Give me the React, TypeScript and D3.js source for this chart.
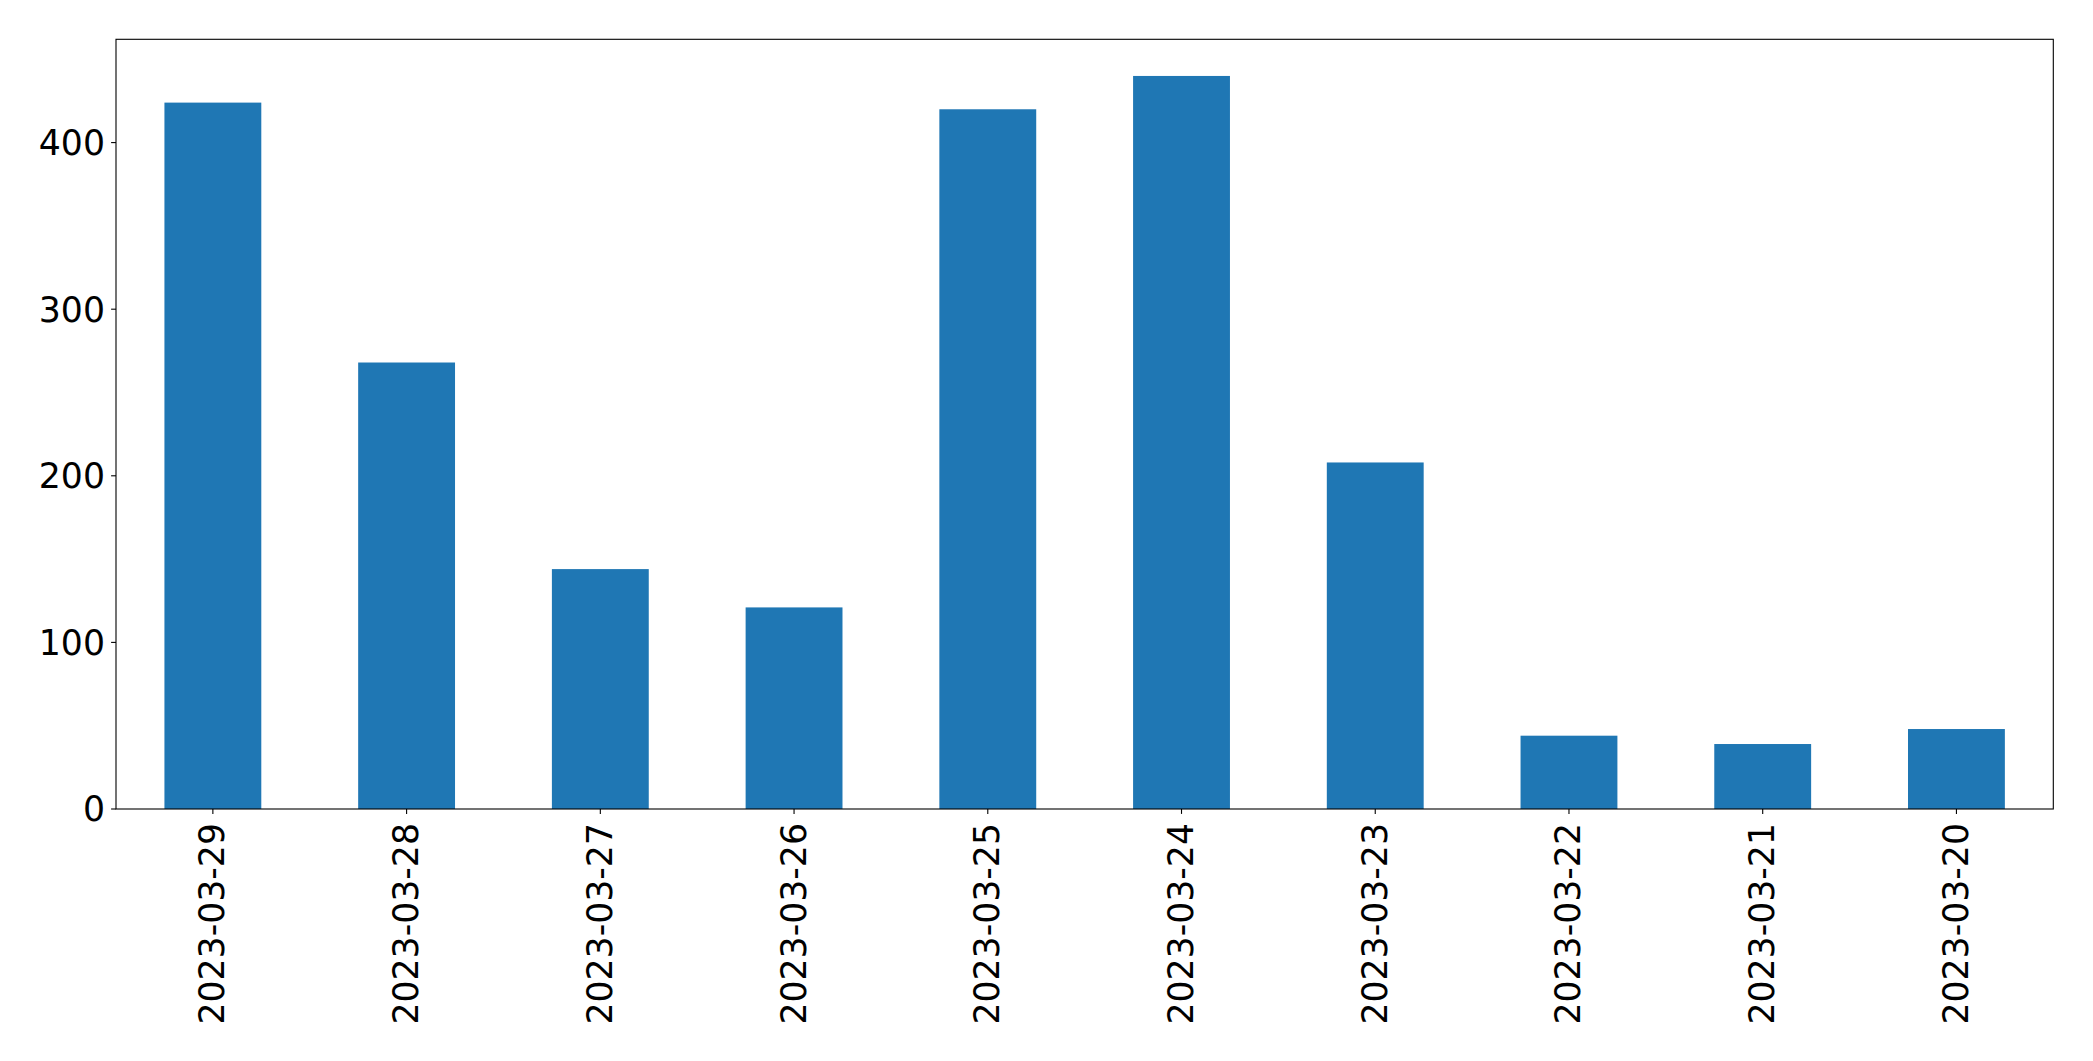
import React from "react";
import * as d3 from "d3";

const categories: string[] = [
  "2023-03-29", "2023-03-28", "2023-03-27", "2023-03-26", "2023-03-25",
  "2023-03-24", "2023-03-23", "2023-03-22", "2023-03-21", "2023-03-20",
];
const values: number[] = [424, 268, 144, 121, 420, 440, 208, 44, 39, 48];
const yTicks: number[] = [0, 100, 200, 300, 400];

const W = 2093;
const H = 1061;
const M = { left: 116, top: 39.3, right: 2053.3, bottom: 809 };
const FONT = "'DejaVu Sans', sans-serif";
const FS = 34.7;
const BAR = "#1f77b4";

export default function App() {
  const x = d3
    .scaleLinear()
    .domain([-0.5, categories.length - 0.5])
    .range([M.left, M.right]);
  const yMax = d3.max(values)! * 1.05;
  const y = d3.scaleLinear().domain([0, yMax]).range([M.bottom, M.top]);
  const bw = x(0.25) - x(-0.25);

  return (
    <svg
      width={W}
      height={H}
      style={{ position: "absolute", left: 0, top: 0, background: "#fff" }}
    >
      <rect x={0} y={0} width={W} height={H} fill="#fff" />
      {values.map((v, i) => (
        <rect
          key={i}
          x={x(i) - bw / 2}
          y={y(v)}
          width={bw}
          height={y(0) - y(v)}
          fill={BAR}
        />
      ))}
      <rect
        x={M.left}
        y={M.top}
        width={M.right - M.left}
        height={M.bottom - M.top}
        fill="none"
        stroke="#000"
        strokeWidth={1.1}
      />
      {yTicks.map((t) => (
        <g key={t}>
          <line
            x1={M.left - 4.9}
            x2={M.left}
            y1={y(t)}
            y2={y(t)}
            stroke="#000"
            strokeWidth={1.1}
          />
          <text
            x={M.left - 11}
            y={y(t)}
            dy="0.36em"
            textAnchor="end"
            fontFamily={FONT}
            fontSize={FS}
            fill="#000"
          >
            {t}
          </text>
        </g>
      ))}
      {categories.map((c, i) => (
        <g key={c}>
          <line
            x1={x(i)}
            x2={x(i)}
            y1={M.bottom}
            y2={M.bottom + 4.9}
            stroke="#000"
            strokeWidth={1.1}
          />
          <text
            transform={`translate(${x(i) - 1},${M.bottom + 14}) rotate(-90)`}
            dy="0.36em"
            textAnchor="end"
            fontFamily={FONT}
            fontSize={FS}
            fill="#000"
          >
            {c}
          </text>
        </g>
      ))}
    </svg>
  );
}
